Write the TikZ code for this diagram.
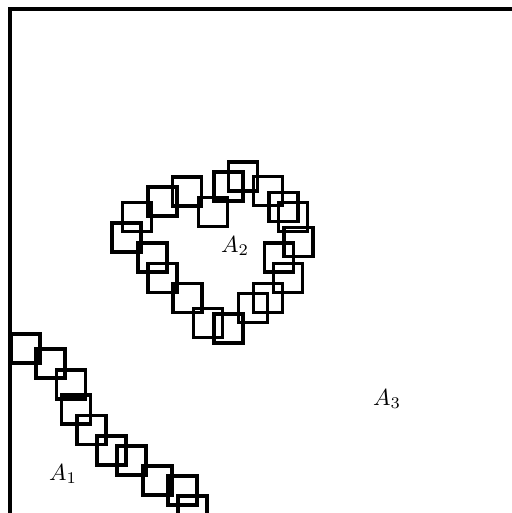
\documentclass[tikz,border=0pt]{standalone}
\begin{document}
\begin{tikzpicture}[x=0.43pt,y=-0.43pt,
  sq/.style={draw,rectangle,minimum size=12.6pt,inner sep=0pt,line width=1.45pt},
  lbl/.style={inner sep=0pt,font=\normalsize}]
\useasboundingbox (0,0) rectangle (512,513);
\clip (0,0) rectangle (512,513);
\draw[line width=1.45pt] (10,560) -- (10,9) -- (560,9);
% ring
\foreach \n/\x/\y in {1/126.5/237.5,2/137/217,3/162.5/201.5,4/187/191.5,5/213/212,
  6/228.5/186.5,7/243/176.5,8/268/191,9/283.5/207,10/293/217,11/298.5/242,
  12/279/257.5,13/288/278,14/268/298,15/253/308,16/228.5/328.5,17/208/323,
  18/187.5/298,19/162.5/278,20/152.5/257.5}
  \node[sq] (r\n) at (\x,\y) {};
% chain
\foreach \n/\x/\y in {1/25.5/348.5,2/50.5/363.5,3/71/384.5,4/76/409.5,5/91.5/430,
  6/111.5/450.5,7/131.5/460.5,8/157.5/480.5,9/182.5/490.5,10/192.5/510.5}
  \node[sq] (c\n) at (\x,\y) {};
\node[lbl] (A1) at (63,474) {$A_1$};
\node[lbl] (A2) at (235,246) {$A_2$};
\node[lbl] (A3) at (387,399) {$A_3$};
\end{tikzpicture}
\end{document}
